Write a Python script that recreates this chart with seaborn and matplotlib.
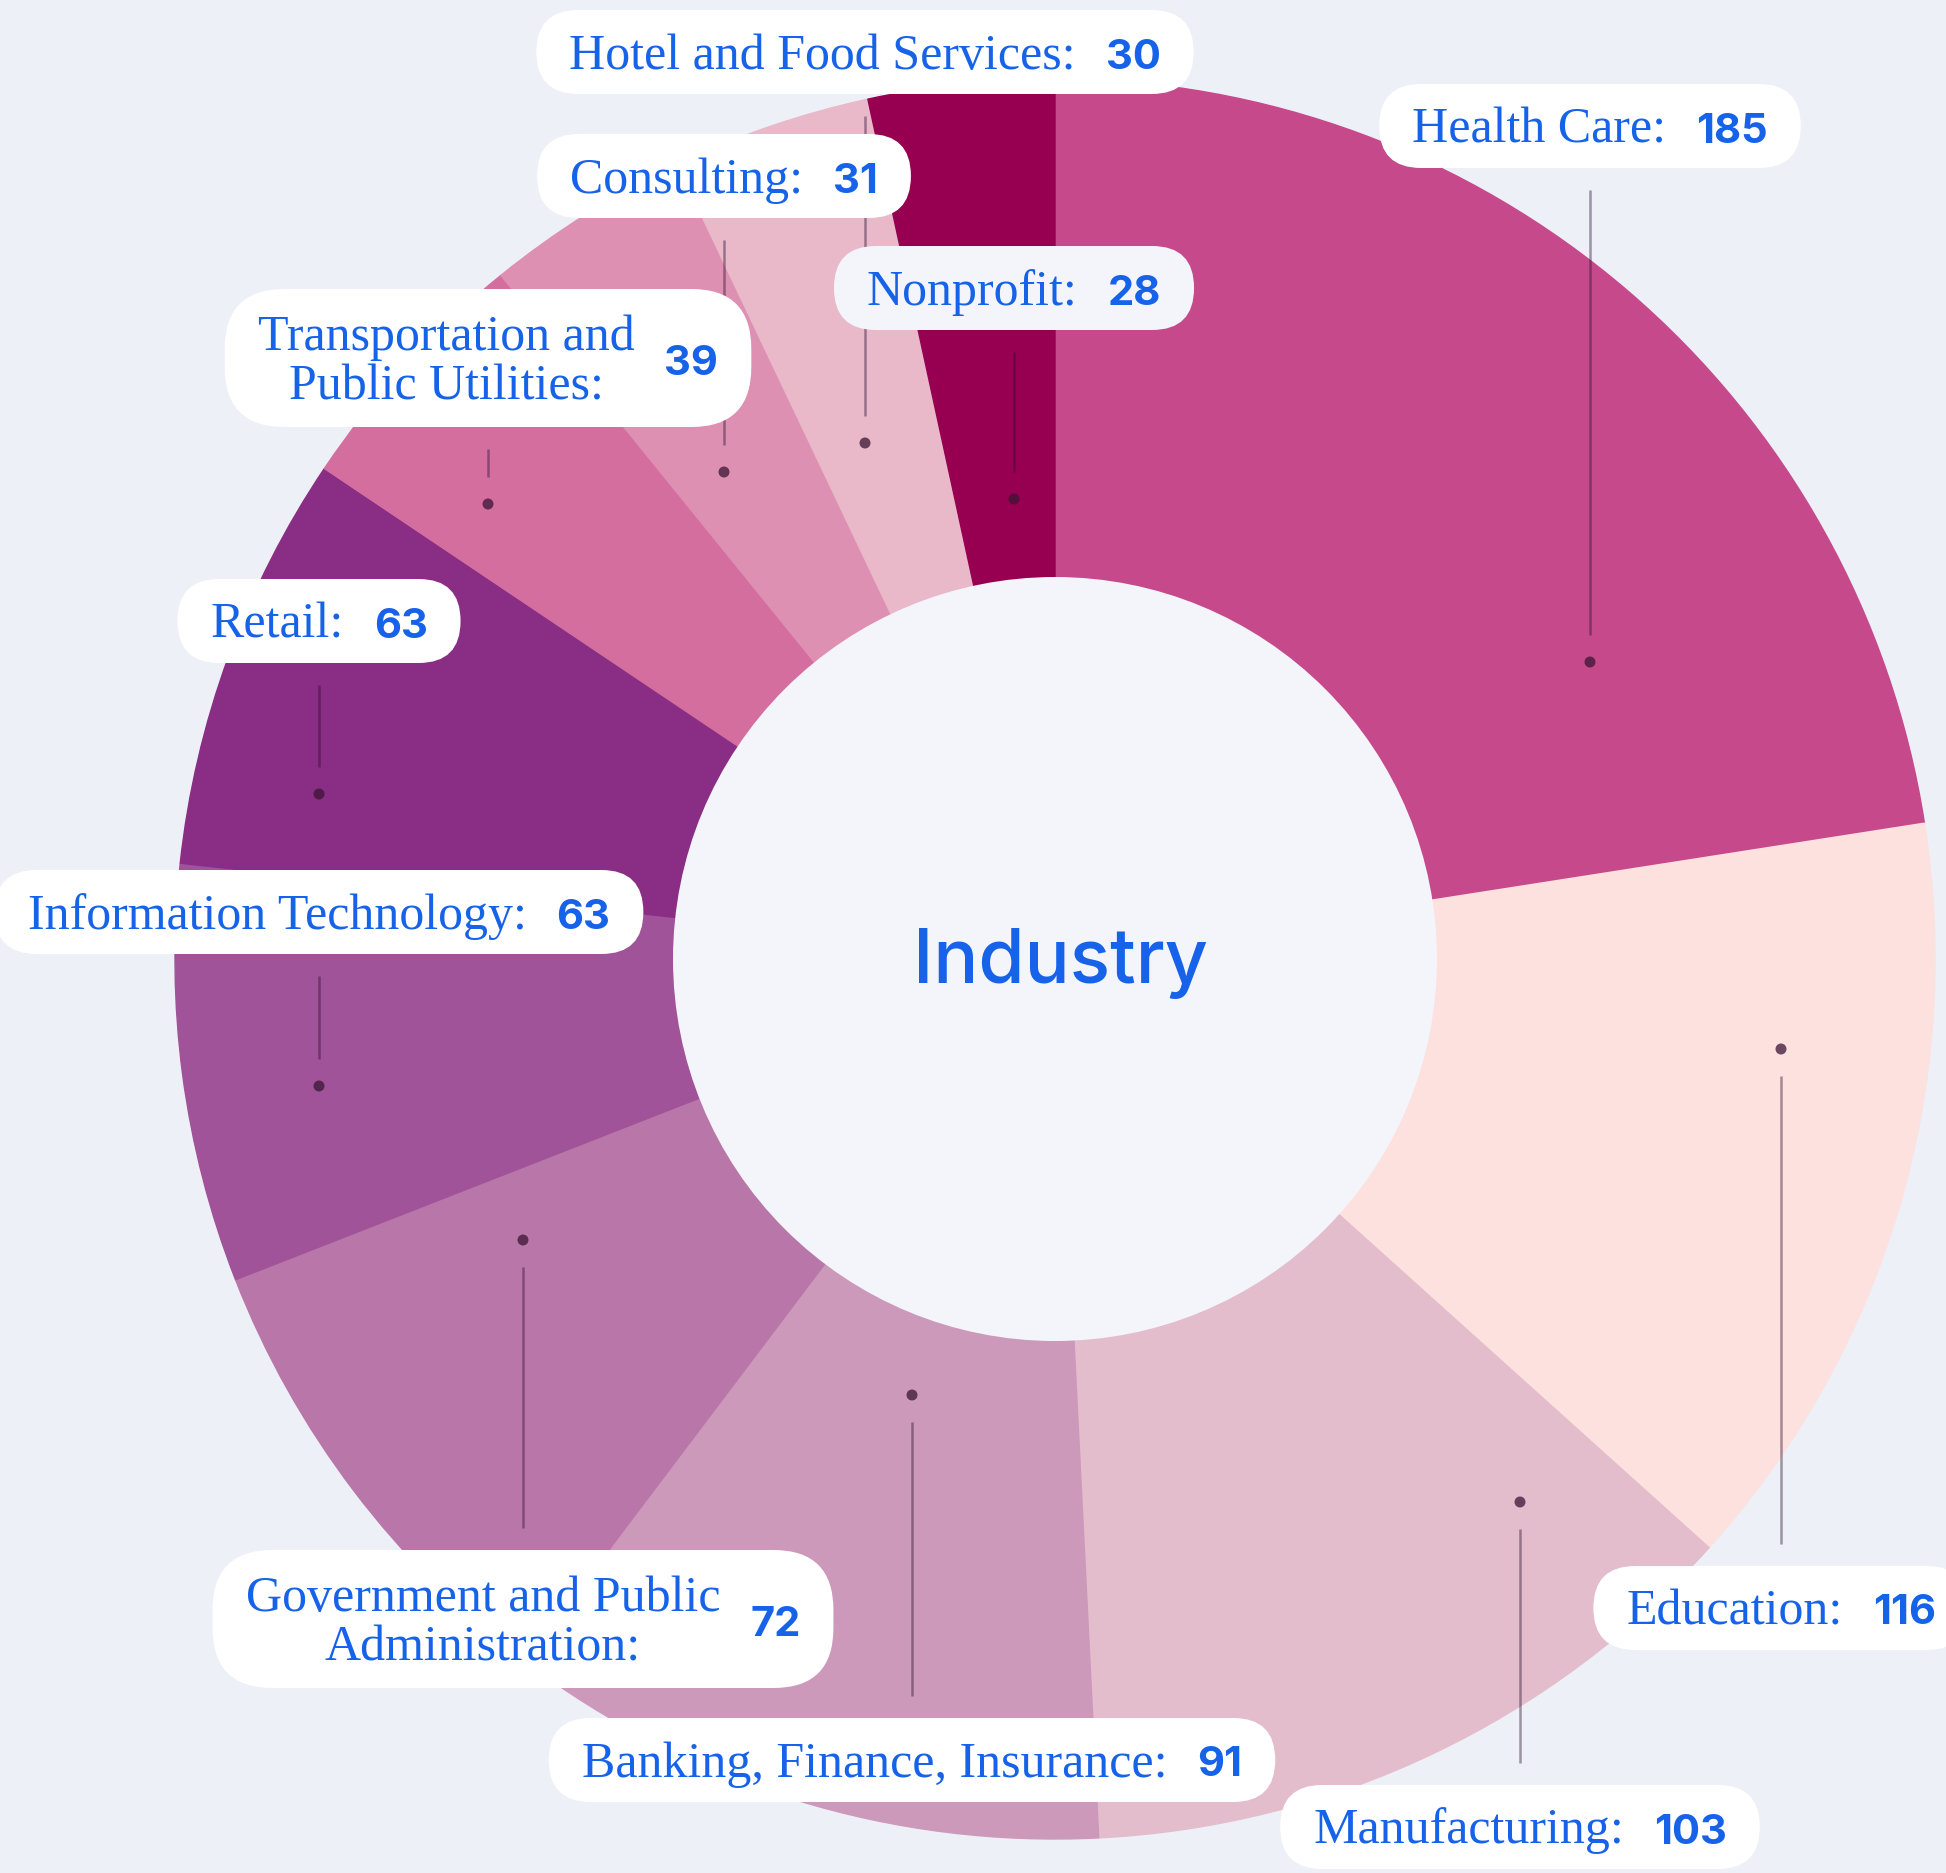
import seaborn as sns
import matplotlib.pyplot as plt
from matplotlib.patches import FancyBboxPatch, Circle

# data
industries = ["Health Care", "Education", "Manufacturing", "Banking, Finance, Insurance",
              "Government and Public Administration", "Information Technology", "Retail",
              "Transportation and Public Utilities", "Consulting", "Hotel and Food Services",
              "Nonprofit"]
counts = [185, 116, 103, 91, 72, 63, 63, 39, 31, 30, 28]
label_lines = [["Health Care:"], ["Education:"], ["Manufacturing:"],
               ["Banking, Finance, Insurance:"], ["Government and Public", "Administration:"],
               ["Information Technology:"], ["Retail:"], ["Transportation and", "Public Utilities:"],
               ["Consulting:"], ["Hotel and Food Services:"], ["Nonprofit:"]]
slice_colors = ["#C64A8B", "#FCE1DF", "#E3BDCC", "#CC99BB", "#B977A9", "#A05398",
                "#892D85", "#D36E9F", "#DE90B3", "#E9B8C9", "#970050"]
center_title = "Industry"

W, H = 1946, 1873
BG = "#EEF0F7"
HOLE = "#F4F5FA"
BLUE = "#1663EA"
SERIF = ["Liberation Serif", "DejaVu Serif"]
SANS = ["Inter", "DejaVu Sans"]

# label layout in image pixels: dot x, dot y, box centre y
layout = {
    "Health Care": (1590, 662, 126),
    "Education": (1781, 1049, 1608),
    "Manufacturing": (1520, 1502, 1827),
    "Banking, Finance, Insurance": (912, 1395, 1760),
    "Government and Public Administration": (523, 1240, 1619),
    "Information Technology": (319, 1086, 912),
    "Retail": (319, 794, 621),
    "Transportation and Public Utilities": (488, 504, 358),
    "Consulting": (724, 472, 176),
    "Hotel and Food Services": (865, 443, 52),
    "Nonprofit": (1014, 499, 288),
}

sns.set_theme(style="white")
plt.rcParams['font.family'] = SERIF

fig = plt.figure(figsize=(W / 100, H / 100), dpi=100)
fig.patch.set_facecolor(BG)
ax = fig.add_axes([0, 0, 1, 1])

cx, cy = 1055, H - 959
r_out, r_in = 880, 381
palette = sns.color_palette(slice_colors)
wedges, _ = ax.pie(counts, colors=palette, startangle=90, counterclock=False,
                   radius=r_out, center=(cx, cy),
                   wedgeprops=dict(width=r_out - r_in, linewidth=1))
for w in wedges:
    w.set_edgecolor(w.get_facecolor())
    w.set_zorder(1)
ax.add_patch(Circle((cx, cy), r_in + 1, facecolor=HOLE, edgecolor="none", zorder=2))

ax.set_xlim(0, W)
ax.set_ylim(0, H)
ax.set_aspect("equal")
ax.axis("off")

ax.text(1060, H - 983, center_title, ha="center", va="baseline", fontsize=54,
        fontweight="medium", family=SANS, color=BLUE, zorder=6)

renderer = fig.canvas.get_renderer()
NAME_FS, NUM_FS = 36, 30
CAP, PITCH, GAP, PAD = 33, 50, 30, 33

for name, lines, n in zip(industries, label_lines, counts):
    dx, dy_img, by_img = layout[name]
    texts = [ax.text(0, 0, ln, fontsize=NAME_FS, color=BLUE, family=SERIF,
                     ha="center", va="baseline", zorder=6) for ln in lines]
    num = ax.text(0, 0, str(n), fontsize=NUM_FS, fontweight="bold", family=SANS,
                  color=BLUE, ha="left", va="baseline", zorder=6)
    block_w = max(t.get_window_extent(renderer).width for t in texts)
    num_w = num.get_window_extent(renderer).width
    total = block_w + GAP + num_w
    left = dx - total / 2
    k = len(lines)
    for i, t in enumerate(texts):
        base = by_img + CAP / 2 + (i - (k - 1) / 2) * PITCH
        t.set_position((left + block_w / 2, H - base))
    num.set_position((left + block_w + GAP, H - (by_img + CAP / 2)))

    bh = 84 if k == 1 else 138
    fc = "#F3F5FA" if name == "Nonprofit" else "white"
    ax.add_patch(FancyBboxPatch((left - PAD, H - by_img - bh / 2), total + 2 * PAD, bh,
                                boxstyle=f"round,pad=0,rounding_size={min(bh / 2, 60)}",
                                facecolor=fc, edgecolor="none", zorder=5))

    if by_img > dy_img:
        y0, y1 = by_img - bh / 2 - 22, dy_img + 27
    else:
        y0, y1 = by_img + bh / 2 + 22, dy_img - 27
    ax.plot([dx, dx], [H - y0, H - y1], color="#2a1030", alpha=0.42, lw=1.8,
            solid_capstyle="butt", zorder=3)
    ax.add_patch(Circle((dx, H - dy_img), 5.5, facecolor="#3a1535", alpha=0.75,
                        edgecolor="none", zorder=3))

fig.savefig("out.png", dpi=100, facecolor=fig.get_facecolor())
